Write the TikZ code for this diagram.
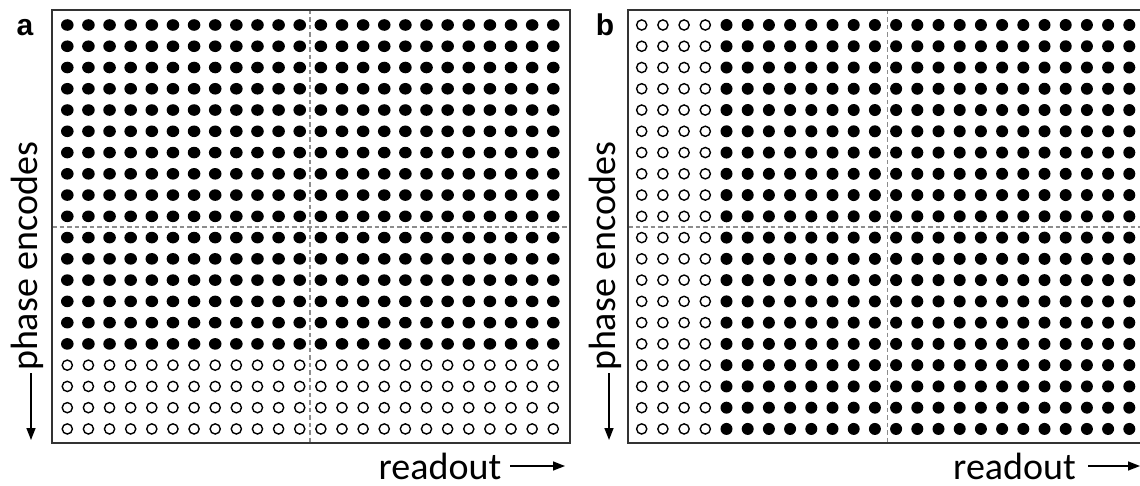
\documentclass[tikz,border=0pt]{standalone}
\usepackage{fontspec}
\setmainfont{Carlito}
\newfontfamily\labelfont{Liberation Sans}
\usetikzlibrary{arrows.meta}
\begin{document}
\begin{tikzpicture}[x=1pt,y=-1pt,
  frame/.style={draw=black!80, line width=1.5pt},
  guide/.style={draw=black!45, line width=1.2pt, dash pattern=on 4.5pt off 3pt},
  fulldot/.style={fill=black},
  emptydot/.style={draw=black, line width=1.4pt, fill=white},
  axislabel/.style={font=\fontsize{38}{40}\selectfont, inner sep=0pt},
  panellabel/.style={font=\labelfont\bfseries\fontsize{30}{32}\selectfont, inner sep=0pt},
  axisarrow/.style={draw=black, line width=1.6pt, -{Triangle[length=12pt,width=9pt]}}
]
\useasboundingbox (0,0) rectangle (1140,486);
% ---------- panel a ----------
\draw[guide] (310,10) -- (310,443);
\draw[guide] (52,227) -- (570,227);
\foreach \i in {0,...,19}{
  \foreach \j in {0,...,23}{
    \pgfmathsetmacro\px{67.3+\j*21.13}
    \pgfmathsetmacro\py{25+\i*21.26}
    \ifnum\i<16
      \fill[fulldot] (\px,\py) ellipse[x radius=6.3, y radius=5.8];
    \else
      \draw[emptydot] (\px,\py) circle[radius=5.1];
    \fi
  }
}
\draw[frame] (52,10) rectangle (570,443);
% ---------- panel b ----------
\draw[guide] (887.5,10) -- (887.5,443);
\draw[guide] (628,227) -- (1141,227);
\foreach \i in {0,...,19}{
  \foreach \j in {0,...,23}{
    \pgfmathsetmacro\px{641.7+\j*21.2}
    \pgfmathsetmacro\py{25+\i*21.26}
    \ifnum\j<4
      \draw[emptydot] (\px,\py) circle[radius=5.1];
    \else
      \fill[fulldot] (\px,\py) circle[radius=6];
    \fi
  }
}
\draw[frame] (1142,10) -- (628,10) -- (628,443) -- (1142,443);
% ---------- labels ----------
\node[panellabel] (la) at (25,28) {a};
\node[panellabel] (lb) at (605,25) {b};
\node[axislabel, rotate=90, anchor=base] (pa) at (37,256.5) {phase encodes};
\node[axislabel, rotate=90, anchor=base] (pb) at (615,256.5) {phase encodes};
\node[axislabel, anchor=base] (ra) at (440,479) {readout};
\node[axislabel, anchor=base] (rb) at (1014.5,479) {readout};
\coordinate (pa0) at (31,373); \coordinate (pa1) at (31,440);
\coordinate (pb0) at (609,373); \coordinate (pb1) at (609,440);
\coordinate (ra0) at (510,466); \coordinate (ra1) at (565,466);
\coordinate (rb0) at (1088,466); \coordinate (rb1) at (1140,466);
\draw[axisarrow] (pa0) -- (pa1);
\draw[axisarrow] (pb0) -- (pb1);
\draw[axisarrow] (ra0) -- (ra1);
\draw[axisarrow] (rb0) -- (rb1);
\end{tikzpicture}
\end{document}
